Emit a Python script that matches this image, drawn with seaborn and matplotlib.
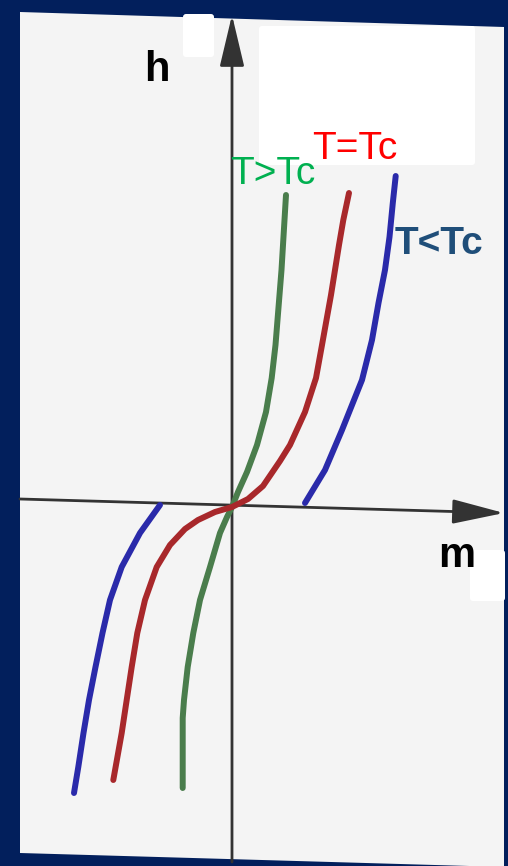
import seaborn as sns
import pandas as pd
import matplotlib.pyplot as plt
from matplotlib.patches import Polygon, FancyBboxPatch

# curves (m, h)
green_m = [-0.493, -0.493, -0.48, -0.443, -0.387, -0.32, -0.22, -0.12, -0.05, 0.0, 0.06,
           0.15, 0.25, 0.34, 0.397, 0.435, 0.455, 0.475, 0.495, 0.51, 0.525, 0.54]
green_h = [-2.81, -2.11, -1.93, -1.60, -1.26, -0.93, -0.60, -0.26, -0.10, 0.0, 0.15,
           0.35, 0.62, 0.95, 1.29, 1.62, 1.87, 2.12, 2.37, 2.62, 2.87, 3.12]

red_m = [-1.187, -1.103, -1.053, -1.003, -0.947, -0.87, -0.753, -0.62, -0.47, -0.34, -0.17, 0.0,
         0.16, 0.31, 0.48, 0.58, 0.73, 0.84, 0.90, 0.945, 0.99, 1.03, 1.07, 1.113, 1.17]
red_h = [-2.73, -2.26, -1.93, -1.60, -1.26, -0.93, -0.60, -0.38, -0.22, -0.13, -0.05, 0.0,
         0.08, 0.21, 0.46, 0.62, 0.95, 1.29, 1.62, 1.87, 2.12, 2.37, 2.62, 2.87, 3.14]

blue_right_m = [0.73, 0.93, 1.10, 1.30, 1.40, 1.465, 1.53, 1.575, 1.608, 1.637]
blue_right_h = [0.04, 0.37, 0.77, 1.27, 1.67, 2.04, 2.37, 2.70, 3.04, 3.31]
blue_left_m = [-0.72, -0.92, -1.103, -1.22, -1.295, -1.365, -1.43, -1.485, -1.537, -1.58]
blue_left_h = [0.02, -0.26, -0.60, -0.93, -1.26, -1.60, -1.93, -2.26, -2.60, -2.86]

labels = ['T>Tc', 'T=Tc', 'T<Tc']

curves = pd.concat([
    pd.DataFrame({'m': green_m, 'h': green_h, 'curve': 'green'}),
    pd.DataFrame({'m': red_m, 'h': red_h, 'curve': 'red'}),
    pd.DataFrame({'m': blue_right_m, 'h': blue_right_h, 'curve': 'blue_r'}),
    pd.DataFrame({'m': blue_left_m, 'h': blue_left_h, 'curve': 'blue_l'}),
])

W, H = 508, 866
OX, OY = 232, 507


def px(x, y):
    # picture pixel -> data units
    return (x - OX) / 100, (OY - y) / 100


sns.set_style('white')
fig = plt.figure(figsize=(W / 100, H / 100), dpi=100)
fig.patch.set_facecolor('#021f5c')
ax = fig.add_axes([0, 0, 1, 1])
ax.set_xlim(px(0, 0)[0], px(W, 0)[0])
ax.set_ylim(px(0, H)[1], px(0, 0)[1])
ax.axis('off')

# light panel, slightly tilted
panel = Polygon([px(20, 12), px(504, 27), px(504, 867), px(20, 853)],
                closed=True, facecolor='#f4f4f4', edgecolor='none', zorder=0)
ax.add_patch(panel)

# white boxes
for (x0, y0, x1, y1) in [(183, 14, 214, 57), (259, 26, 475, 165), (470, 550, 505, 601)]:
    a = px(x0, y1)
    b = px(x1, y0)
    ax.add_patch(FancyBboxPatch(a, b[0] - a[0], b[1] - a[1],
                                boxstyle='round,pad=0,rounding_size=0.03',
                                facecolor='white', edgecolor='none', zorder=1))

# axes with arrows
arrow = dict(arrowstyle='-|>,head_length=1.6,head_width=0.38', mutation_scale=20,
             color='#333333', lw=2, shrinkA=0, shrinkB=0)
ax.annotate('', xy=px(232, 15), xytext=px(232, 862), arrowprops=arrow, zorder=2)
ax.annotate('', xy=px(504, 513), xytext=px(20, 499), arrowprops=arrow, zorder=2)

palette = {'green': '#4a7d4c', 'red': '#a8282b', 'blue_r': '#2a2aaa', 'blue_l': '#2a2aaa'}
sns.lineplot(data=curves, x='m', y='h', hue='curve', units='curve', estimator=None,
             sort=False, palette=palette, lw=4.3, legend=False, ax=ax, zorder=3,
             solid_capstyle='round', solid_joinstyle='round')

fnt = 'Liberation Sans'
ax.text(*px(157, 70), 'h', fontsize=30, fontweight='bold', color='black',
        ha='center', va='center', family=fnt, zorder=4)
ax.text(*px(457, 556), 'm', fontsize=30, fontweight='bold', color='black',
        ha='center', va='center', family=fnt, zorder=4)
ax.text(*px(273, 174), labels[0], fontsize=28, color='#00b050',
        ha='center', va='center', family=fnt, zorder=4)
ax.text(*px(355, 149), labels[1], fontsize=28, color='#ff0000',
        ha='center', va='center', family=fnt, zorder=4)
ax.text(*px(439, 244), labels[2], fontsize=28, fontweight='bold', color='#1f4e79',
        ha='center', va='center', family=fnt, zorder=4)

fig.savefig('out.png', dpi=100, facecolor=fig.get_facecolor())
